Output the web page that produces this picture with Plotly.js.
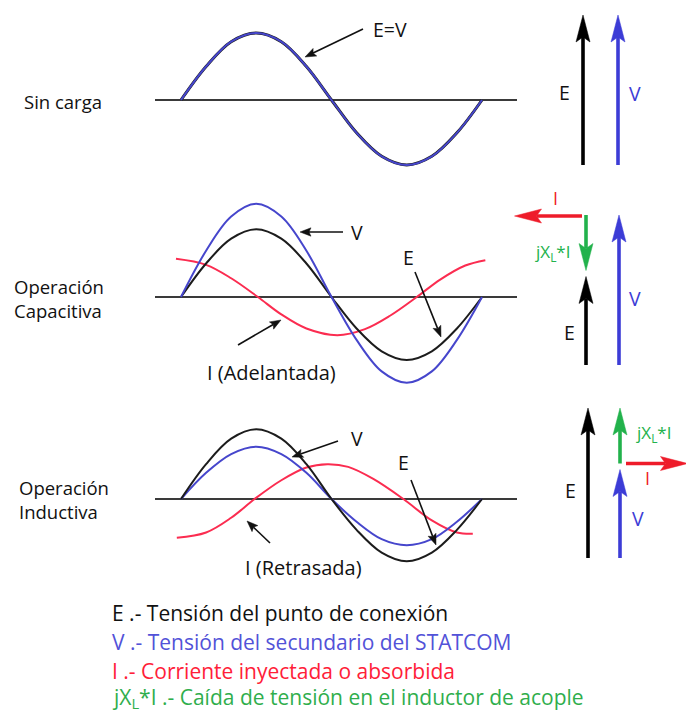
<!DOCTYPE html>
<html>
<head>
<meta charset="utf-8">
<script src="https://cdn.plot.ly/plotly-3.0.1.min.js"></script>
<style>html,body{margin:0;padding:0;background:#fff}#chart{width:686px;height:713px}</style>
</head>
<body>
<div id="chart"></div>
<script>
// ---------------- data ----------------
// phase angle (degrees) of the sampled points, amplitudes in p.u. of E (no load)
const angleDeg = [0, 30, 60, 90, 120, 150, 180, 210, 240, 270, 300, 330, 360];

// Sin carga
const sinCargaE = [0, 0.5, 0.87, 1.0, 0.87, 0.5, 0, -0.49, -0.84, -0.97, -0.84, -0.49, 0];
const sinCargaV = [0, 0.5, 0.87, 1.0, 0.87, 0.5, 0, -0.49, -0.84, -0.97, -0.84, -0.49, 0];

// Operación capacitiva
const capV = [0, 0.69, 1.2, 1.39, 1.2, 0.69, 0, -0.64, -1.11, -1.28, -1.11, -0.64, 0];
const capE = [0, 0.5, 0.87, 1.01, 0.87, 0.5, 0, -0.47, -0.81, -0.94, -0.81, -0.47, 0];
const capIDeg = [-6, 30, 60, 92, 120, 150, 187, 220, 250, 282, 310, 340, 364];
const capI = [0.57, 0.48, 0.28, 0, -0.26, -0.47, -0.57, -0.48, -0.28, 0, 0.26, 0.47, 0.55];

// Operación inductiva
const indE = [0, 0.52, 0.9, 1.04, 0.9, 0.52, 0, -0.46, -0.8, -0.93, -0.8, -0.46, 0];
const indV = [0, 0.39, 0.67, 0.78, 0.67, 0.39, 0, -0.34, -0.6, -0.69, -0.6, -0.34, 0];
const indIDeg = [-5, 30, 60, 88, 120, 150, 175, 200, 230, 266, 300, 330, 349];
const indI = [-0.58, -0.5, -0.28, 0, 0.28, 0.47, 0.52, 0.48, 0.3, 0, -0.32, -0.5, -0.52];

// phasor magnitudes: [E, V, I, jXL*I]
const phasorSinCarga = [1.0, 1.0, 0, 0];
const phasorCap = [0.59, 1.0, 0.45, 0.37];
const phasorInd = [1.0, 0.59, 0.41, 0.37];

// texts
const panelTitles = ['Sin carga', 'Operación<br>Capacitiva', 'Operación<br>Inductiva'];
const curveNotes = ['E=V', 'V', 'E', 'I (Adelantada)', 'V', 'E', 'I (Retrasada)'];
const phasorLabels = ['E', 'V', 'I', 'jX<sub>L</sub>*I'];
const legendLines = [
  'E .- Tensión del punto de conexión',
  'V .- Tensión del secundario del STATCOM',
  'I .- Corriente inyectada o absorbida',
  'jX<sub>L</sub>*I .- Caída de tensión en el inductor de acople'
];

// ---------------- styling / layout constants ----------------
const W = 686, H = 713;
const FONT = 'Open Sans, DejaVu Sans, sans-serif';
const C_BLACK = '#1c1c1c', C_BLUE = '#4646cc', C_RED = '#fb2c50';
const P_BLACK = '#000000', P_BLUE = '#3c3cd6', P_RED = '#ee1c2a', P_GREEN = '#22b24c';
const L_BLUE = '#5252d8', L_RED = '#ff2038', L_GREEN = '#2fae4c';

const x0px = 181, x360px = 482;            // 0° and 360° in pixels
const pxPerDeg = (x360px - x0px) / 360;
const axLeft = 155, axRight = 517;          // horizontal axis line extent
const pxPerUnit = 67, halfPx = 100;
const centers = [100, 297, 499];

const xr = [(axLeft - x0px) / pxPerDeg, (axRight - x0px) / pxPerDeg];
const xdom = [axLeft / W, axRight / W];
function ydom(c) { return [1 - (c + halfPx) / H, 1 - (c - halfPx) / H]; }
const yr = [-halfPx / pxPerUnit, halfPx / pxPerUnit];

function waveAxisX(anchor) {
  return {domain: xdom, range: xr, anchor: anchor, showgrid: false, zeroline: false,
          showticklabels: false, ticks: '', showline: false, fixedrange: true};
}
function waveAxisY(c, anchor) {
  return {domain: ydom(c), range: yr, anchor: anchor, showgrid: false, zeroline: true,
          zerolinecolor: '#3a3a3a', zerolinewidth: 1.6, showticklabels: false, ticks: '',
          showline: false, fixedrange: true};
}
function wave(x, y, color, width, xa, ya) {
  return {x: x, y: y, xaxis: xa, yaxis: ya, mode: 'lines', hoverinfo: 'skip',
          line: {color: color, width: width, shape: 'spline', smoothing: 1}};
}

const traces = [
  wave(angleDeg, sinCargaE, C_BLACK, 3, 'x', 'y'),
  wave(angleDeg, sinCargaV, C_BLUE, 2, 'x', 'y'),
  wave(capIDeg, capI, C_RED, 2, 'x2', 'y2'),
  wave(angleDeg, capE, C_BLACK, 2, 'x2', 'y2'),
  wave(angleDeg, capV, C_BLUE, 2, 'x2', 'y2'),
  wave(indIDeg, indI, C_RED, 2, 'x3', 'y3'),
  wave(angleDeg, indV, C_BLUE, 2, 'x3', 'y3'),
  wave(angleDeg, indE, C_BLACK, 2, 'x3', 'y3'),
  {x: [0], y: [0], xaxis: 'x4', yaxis: 'y4', mode: 'markers', marker: {opacity: 0}, hoverinfo: 'skip'}
];

// ---------------- arrows (shapes on a pixel overlay axis) ----------------
const shapes = [];
function arrow(x0, y0, x1, y1, color, lw, headLen, headHalf, notch) {
  const dx = x1 - x0, dy = y1 - y0, L = Math.hypot(dx, dy);
  const ux = dx / L, uy = dy / L, nx = -uy, ny = ux;
  const bx = x1 - ux * headLen, by = y1 - uy * headLen;
  const sx = x1 - ux * (headLen - notch), sy = y1 - uy * (headLen - notch);
  shapes.push({type: 'line', xref: 'x4', yref: 'y4', x0: x0, y0: y0, x1: sx, y1: sy,
               line: {color: color, width: lw}});
  const p = 'M' + x1 + ',' + y1 + ' L' + (bx + nx * headHalf) + ',' + (by + ny * headHalf) +
            ' L' + sx + ',' + sy + ' L' + (bx - nx * headHalf) + ',' + (by - ny * headHalf) + ' Z';
  shapes.push({type: 'path', xref: 'x4', yref: 'y4', path: p, fillcolor: color,
               line: {color: color, width: 0.5}});
}
function phasor(x0, y0, x1, y1, color) { arrow(x0, y0, x1, y1, color, 3.6, 27, 7, 5); }
function pointer(x0, y0, x1, y1) { arrow(x0, y0, x1, y1, '#111', 1.6, 11, 4.2, 2); }

const S = 150; // px per p.u. for phasors
// Sin carga
{
  const base = 165;
  phasor(583, base, 583, base - phasorSinCarga[0] * S, P_BLACK);
  phasor(618, base, 618, base - phasorSinCarga[1] * S, P_BLUE);
}
// Capacitiva
{
  const base = 365;
  const vTip = base - phasorCap[1] * S;
  phasor(586, base, 586, base - phasorCap[0] * S, P_BLACK);
  phasor(619, base, 619, vTip, P_BLUE);
  phasor(586, vTip, 586, vTip + phasorCap[3] * S, P_GREEN);
  phasor(582, vTip + 1, 582 - phasorCap[2] * S, vTip + 1, P_RED);
}
// Inductiva
{
  const base = 558;
  const eTip = base - phasorInd[0] * S;
  const gBase = eTip + phasorInd[3] * S;
  phasor(588, base, 588, eTip, P_BLACK);
  phasor(620, base, 620, base - phasorInd[1] * S, P_BLUE);
  phasor(620, gBase, 620, eTip, P_GREEN);
  phasor(626, gBase, 626 + phasorInd[2] * S, gBase, P_RED);
}
// pointer arrows for the curve notes
pointer(363, 29, 305, 57);
pointer(343, 232, 300, 232);
pointer(415, 272, 441, 337);
pointer(238, 345, 281, 320);
pointer(338, 441, 292, 457);
pointer(411, 480, 436, 545);
pointer(270, 543, 247, 521);

// ---------------- text annotations ----------------
const annotations = [];
function txt(text, x, y, size, color, xanchor) {
  annotations.push({text: text, x: x, y: y, xref: 'x4', yref: 'y4', showarrow: false,
                    xanchor: xanchor || 'center', yanchor: 'middle', align: 'left',
                    font: {family: FONT, size: size, color: color}});
}
txt(panelTitles[0], 22, 101, 18.5, '#111', 'left');
txt(panelTitles[1], 12, 298, 18.5, '#111', 'left');
txt(panelTitles[2], 17, 499, 18.5, '#111', 'left');

txt(curveNotes[0], 390, 29, 19.5, '#111');
txt(curveNotes[1], 357, 232, 19.5, '#111');
txt(curveNotes[2], 408, 257, 19.5, '#111');
txt(curveNotes[3], 205, 372, 20, '#111', 'left');
txt(curveNotes[4], 357, 438, 19.5, '#111');
txt(curveNotes[5], 403, 462, 19.5, '#111');
txt(curveNotes[6], 243, 567, 20, '#111', 'left');

// phasor labels
txt(phasorLabels[0], 564, 92, 19.5, '#111');
txt(phasorLabels[1], 635, 93, 19.5, P_BLUE);
txt(phasorLabels[2], 555, 198, 18, P_RED);
txt(phasorLabels[3], 552, 252, 17, P_GREEN);
txt(phasorLabels[0], 569, 332, 19.5, '#111');
txt(phasorLabels[1], 635, 298, 19.5, P_BLUE);
txt(phasorLabels[0], 570, 490, 19.5, '#111');
txt(phasorLabels[3], 653, 433, 17, P_GREEN);
txt(phasorLabels[2], 647, 478, 18, P_RED);
txt(phasorLabels[1], 638, 518, 19.5, P_BLUE);

// legend lines
const legendColors = ['#111', L_BLUE, L_RED, L_GREEN];
const legendY = [613, 642, 671, 698];
legendLines.forEach((t, i) => txt(t, 110, legendY[i], 21, legendColors[i], 'left'));

const layout = {
  width: W, height: H, margin: {l: 0, r: 0, t: 0, b: 0, pad: 0},
  paper_bgcolor: '#ffffff', plot_bgcolor: 'rgba(0,0,0,0)', showlegend: false,
  font: {family: FONT},
  xaxis: waveAxisX('y'), yaxis: waveAxisY(centers[0], 'x'),
  xaxis2: waveAxisX('y2'), yaxis2: waveAxisY(centers[1], 'x2'),
  xaxis3: waveAxisX('y3'), yaxis3: waveAxisY(centers[2], 'x3'),
  xaxis4: {domain: [0, 1], range: [0, W], anchor: 'y4', visible: false, fixedrange: true},
  yaxis4: {domain: [0, 1], range: [H, 0], anchor: 'x4', visible: false, fixedrange: true},
  shapes: shapes, annotations: annotations
};

Plotly.newPlot('chart', traces, layout, {staticPlot: true, displayModeBar: false});
</script>
</body>
</html>
